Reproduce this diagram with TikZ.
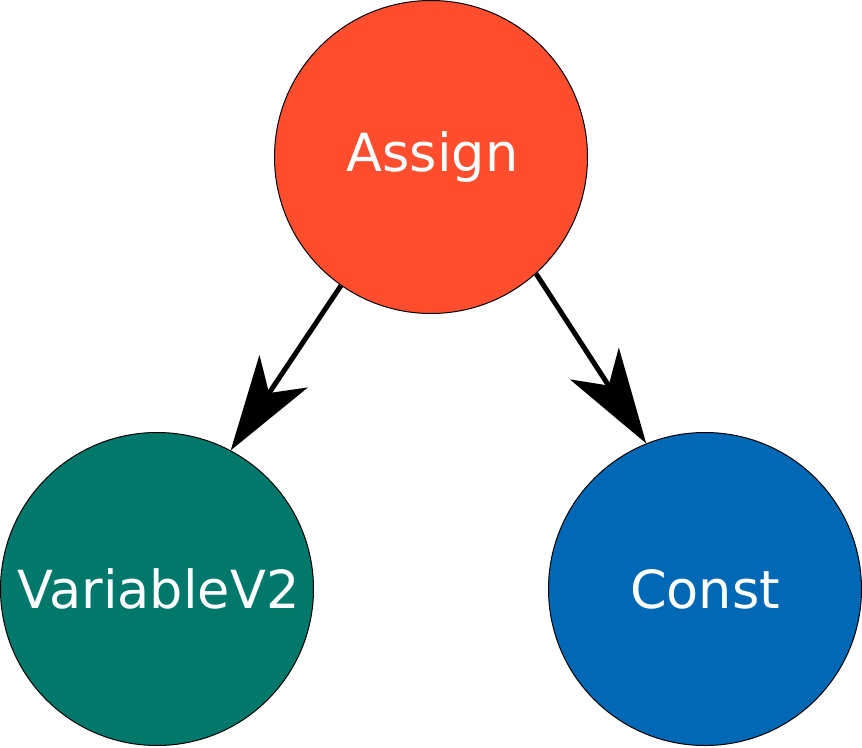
\documentclass[tikz,border=0pt]{standalone}
\usepackage{fontspec}
\setmainfont{DejaVu Sans}
\usetikzlibrary{arrows.meta}
\definecolor{cassign}{RGB}{255,77,46}
\definecolor{cvar}{RGB}{0,120,108}
\definecolor{cconst}{RGB}{0,104,180}
\begin{document}
\begin{tikzpicture}[x=1pt,y=-1pt,
  opnode/.style={circle,draw=black,line width=1pt,minimum size=313pt,inner sep=0pt,text=white,font=\fontsize{52.5}{62}\selectfont},
  edge/.style={line width=5pt,-{Stealth[length=95pt,width=58pt,inset=26pt]}}]
\useasboundingbox (0,0) rectangle (862,747);
\node[opnode,fill=cassign] (assign) at (431,157) {\hspace*{3pt}Assign};
\node[opnode,fill=cvar] (var) at (157,589) {\hspace*{3pt}VariableV2};
\node[opnode,fill=cconst] (const) at (705,589) {Const};
\draw[edge] (assign.-125) -- (var.62);
\draw[edge] (assign.-48) -- (const.112);
\end{tikzpicture}
\end{document}
